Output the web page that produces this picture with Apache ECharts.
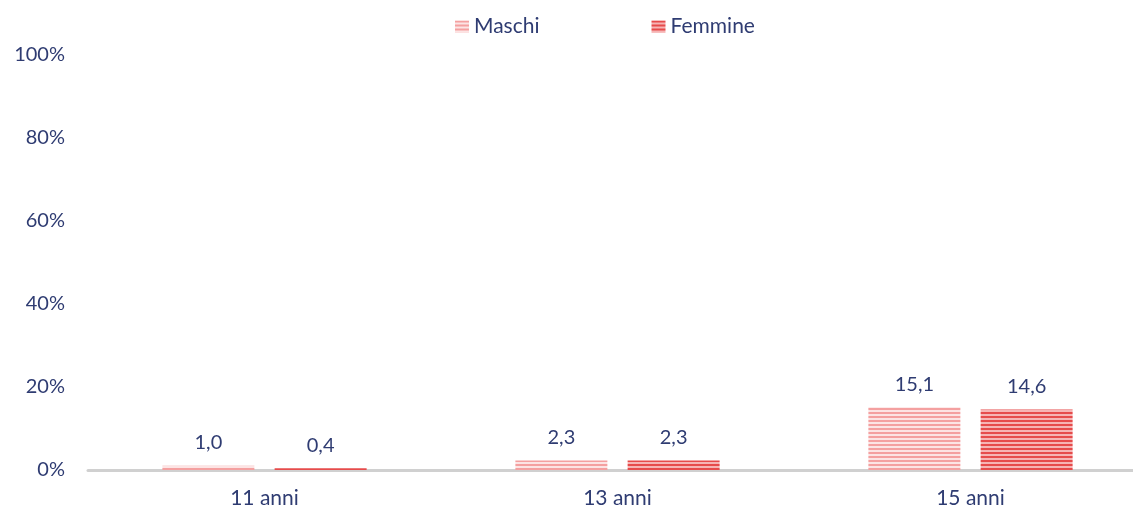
<!DOCTYPE html>
<html>
<head>
<meta charset="utf-8">
<script src="https://cdn.jsdelivr.net/npm/echarts@6/dist/echarts.min.js"></script>
<style>html,body{margin:0;padding:0;background:#fff}#c{width:1133px;height:513px}</style>
</head>
<body>
<div id="c"></div>
<script>
var categories = ['11 anni', '13 anni', '15 anni'];
var maschi = [1.0, 2.3, 15.1];
var femmine = [0.4, 2.3, 14.6];
var seriesNames = ['Maschi', 'Femmine'];
var yTicks = [0, 20, 40, 60, 80, 100];

function stripe(fg, bg) {
  var c = document.createElement('canvas');
  c.width = 4; c.height = 4;
  var g = c.getContext('2d');
  g.fillStyle = bg; g.fillRect(0, 0, 4, 4);
  g.fillStyle = fg; g.fillRect(0, 0, 4, 2);
  return { image: c, repeat: 'repeat' };
}
var textColor = '#2F3C72';
var font = 'Lato';
function fmt(v) { return v.toFixed(1).replace('.', ','); }

var chart = echarts.init(document.getElementById('c'));
chart.setOption({
  animation: false,
  textStyle: { fontFamily: font },
  legend: {
    data: seriesNames,
    top: 11,
    left: 450,
    itemGap: 112,
    itemWidth: 14,
    itemHeight: 12,
    icon: 'rect',
    textStyle: { color: textColor, fontSize: 21, fontFamily: font }
  },
  grid: { left: 88, right: -14, top: 55, bottom: 43, containLabel: false, outerBoundsMode: 'none' },
  xAxis: {
    type: 'category',
    data: categories,
    axisLine: { lineStyle: { color: '#D0D0D0', width: 3 } },
    axisTick: { show: false },
    axisLabel: { color: textColor, fontSize: 21, margin: 18, fontFamily: font }
  },
  yAxis: {
    type: 'value',
    min: 0, max: 100, interval: 20,
    splitLine: { show: false },
    axisLine: { show: false },
    axisTick: { show: false },
    axisLabel: {
      color: textColor, fontSize: 20, margin: 23, fontFamily: font,
      formatter: function (v) { return yTicks.indexOf(v) >= 0 ? v + '%' : ''; }
    }
  },
  series: [
    {
      name: seriesNames[0], type: 'bar', data: maschi,
      barWidth: 92, barGap: '22%',
      itemStyle: { color: stripe('#F4A0A0', '#FCE4E4') },
      label: { show: true, position: 'top', distance: 13, color: textColor, fontSize: 20, fontFamily: font,
        formatter: function (p) { return fmt(p.value); } }
    },
    {
      name: seriesNames[1], type: 'bar', data: femmine,
      barWidth: 92,
      itemStyle: { color: stripe('#E64B4B', '#F6B4B4') },
      label: { show: true, position: 'top', distance: 13, color: textColor, fontSize: 20, fontFamily: font,
        formatter: function (p) { return fmt(p.value); } }
    }
  ]
});
</script>
</body>
</html>
